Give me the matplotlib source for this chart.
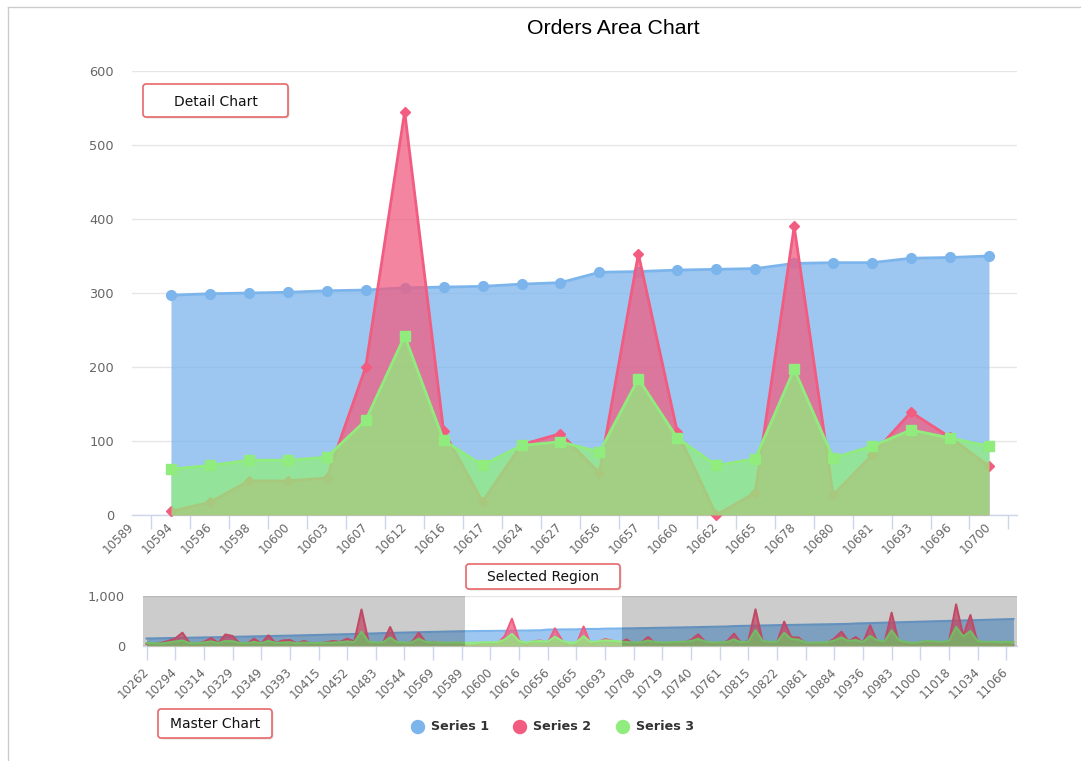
import numpy as np
import matplotlib.pyplot as plt
from matplotlib.patches import FancyBboxPatch, Circle

W, H = 1081, 761

# detail view (selected orders)
det_cats = ['10589', '10594', '10596', '10598', '10600', '10603', '10607', '10612',
            '10616', '10617', '10624', '10627', '10656', '10657', '10660', '10662',
            '10665', '10678', '10680', '10681', '10693', '10696', '10700']
det_s1 = [297, 299, 300, 301, 303, 304, 307, 308, 309, 312, 314,
          328, 329, 331, 332, 333, 340, 341, 341, 347, 348, 350]
det_s2 = [5, 17, 46, 46, 50, 200, 545, 113, 18, 95, 110,
          57, 353, 112, 0, 30, 390, 27, 81, 139, 105, 66]
det_s3 = [62, 67, 74, 74, 78, 128, 242, 101, 67, 94, 99,
          85, 184, 104, 67, 76, 197, 77, 93, 115, 104, 93]

# master view, every 4th order id is labelled
master_labels = ['10262', '10294', '10314', '10329', '10349', '10393', '10415', '10452',
                 '10483', '10544', '10569', '10589', '10600', '10616', '10656', '10665',
                 '10693', '10708', '10719', '10740', '10761', '10815', '10822', '10861',
                 '10884', '10936', '10983', '11000', '11018', '11034', '11066']

s1_before = [150, 152, 155, 158, 160, 163, 165, 168, 171, 173, 176, 180, 183, 186, 188,
             192, 195, 198, 201, 204, 207, 211, 214, 218, 221, 225, 229, 232, 236, 240,
             244, 248, 252, 257, 261, 265, 268, 272, 275, 279, 282, 285, 289, 292, 295]
s1_after = [352, 354, 357, 359, 362, 364, 367, 369, 372, 375, 378, 381, 384, 387, 390,
            398, 401, 404, 407, 410, 413, 416, 419, 421, 424, 426, 429, 431, 434, 436, 439, 442,
            450, 454, 458, 462, 466, 470, 474, 478, 482, 486, 490, 494, 498, 502, 506, 510,
            514, 518, 522, 527, 531, 535, 540]

s2_before = [40, 35, 60, 100, 150, 266, 60, 40, 80, 160, 60, 230, 200, 50, 40,
             146, 50, 213, 60, 110, 120, 50, 100, 40, 50, 70, 100, 80, 146, 90,
             730, 80, 40, 60, 380, 60, 50, 70, 266, 60, 80, 50, 60, 40, 50]
s2_after = [130, 40, 60, 180, 50, 40, 60, 50, 70, 120, 233, 80, 40, 60, 90,
            246, 60, 100, 733, 90, 60, 70, 487, 170, 170, 50, 40, 40, 60, 150, 287, 90,
            180, 60, 413, 80, 60, 667, 60, 40, 30, 50, 70, 60, 40, 80, 833, 200, 620,
            60, 40, 50, 30, 40, 20]

s3_before = [60, 55, 50, 70, 90, 110, 60, 55, 70, 90, 60, 100, 95, 60, 55,
             80, 60, 100, 65, 70, 75, 55, 70, 60, 60, 65, 70, 75, 90, 80,
             290, 85, 70, 75, 170, 75, 70, 70, 146, 80, 75, 70, 65, 70, 65]
s3_after = [80, 70, 75, 110, 80, 70, 75, 80, 85, 100, 140, 90, 70, 75, 80,
            130, 75, 90, 320, 100, 80, 85, 260, 140, 130, 70, 65, 70, 75, 110, 170, 100,
            120, 80, 200, 110, 90, 313, 120, 80, 60, 80, 100, 90, 80, 100, 380, 190, 300,
            100, 80, 85, 80, 85, 80]

sel_from, sel_to = 44.5, 66.3

colors = ['#7cb5ec', '#f15c80', '#90ed7d']
markers = ['o', 'D', 's']
msizes = [7, 5.2, 7]
names = ['Series 1', 'Series 2', 'Series 3']
axis_c = '#ccd6eb'
grid_c = '#e6e6e6'
lab_c = '#666666'

# full series = orders before the selection + selected orders + orders after
m_s1 = s1_before + det_s1 + s1_after
m_s2 = s2_before + det_s2 + s2_after
m_s3 = s3_before + det_s3 + s3_after
start = master_labels.index(det_cats[0]) * 4

fig = plt.figure(figsize=(W / 100, H / 100), dpi=100)


def px_axes(x0, y0, x1, y1):
    return fig.add_axes([x0 / W, 1 - y1 / H, (x1 - x0) / W, (y1 - y0) / H])


def style_axes(ax):
    for s in ['top', 'left', 'right']:
        ax.spines[s].set_visible(False)
    ax.spines['bottom'].set_color(axis_c)
    ax.spines['bottom'].set_linewidth(1)
    ax.set_axisbelow(True)
    ax.yaxis.grid(True, color=grid_c, lw=1)
    ax.tick_params(axis='y', length=0, pad=13, labelsize=9.3, labelcolor=lab_c)


def rotate_labels(labels):
    for t in labels:
        t.set_rotation(45)
        t.set_ha('right')
        t.set_va('center')
        t.set_rotation_mode('anchor')


# ---- detail chart
ax = px_axes(132, 71, 1017, 515)
style_axes(ax)
det_x = np.arange(start + 1, start + len(det_cats))
for i, ys in enumerate([det_s1, det_s2, det_s3]):
    ax.fill_between(det_x, 0, ys, color=colors[i], alpha=0.75, lw=0, zorder=2 + i)
    ax.plot(det_x, ys, color=colors[i], lw=2, marker=markers[i], ms=msizes[i],
            zorder=2.5 + i, clip_on=False)
ax.set_ylim(0, 600)
ax.set_yticks(np.arange(0, 601, 100))
ax.set_xlim(start, start + len(det_cats) - 1 + 0.72)
ax.set_xticks(np.arange(start + 0.5, start + len(det_cats)), [''] * len(det_cats))
ax.tick_params(axis='x', which='major', length=10, color=axis_c, width=1)
ax.set_xticks(np.arange(start, start + len(det_cats)), det_cats, minor=True)
ax.tick_params(axis='x', which='minor', length=0, pad=7, labelsize=8.6, labelcolor=lab_c)
rotate_labels(ax.get_xticklabels(minor=True))

# ---- master chart
ax2 = px_axes(143, 596, 1017, 646)
style_axes(ax2)
mx = np.arange(len(m_s1))
for i, ys in enumerate([m_s1, m_s2, m_s3]):
    ax2.fill_between(mx, 0, ys, color=colors[i], alpha=0.75, lw=0, zorder=2 + i)
    ax2.plot(mx, ys, color=colors[i], lw=1.5, zorder=2.5 + i)
ax2.set_xlim(-0.5, len(m_s1) - 0.5)
ax2.axvspan(-0.5, sel_from, color='black', alpha=0.2, lw=0, zorder=10)
ax2.axvspan(sel_to, len(m_s1) - 0.5, color='black', alpha=0.2, lw=0, zorder=10)
ax2.set_ylim(0, 1000)
ax2.set_yticks([0, 1000], ['0', '1,000'])
ax2.set_xticks(np.arange(len(master_labels)) * 4, master_labels)
ax2.tick_params(axis='x', length=10, color=axis_c, width=1, pad=7,
                labelsize=8.6, labelcolor=lab_c)
rotate_labels(ax2.get_xticklabels())

# ---- overlay in pixel units for title, labels and legend
ov = fig.add_axes([0, 0, 1, 1], zorder=20)
ov.set_xlim(0, W)
ov.set_ylim(H, 0)
ov.axis('off')
ov.plot([8, 8], [7, H], color='#cccccc', lw=1)
ov.plot([8, W], [7, 7], color='#cccccc', lw=1)

ov.text(613, 28, 'Orders Area Chart', ha='center', va='center', fontsize=15.3,
        family='Liberation Sans', color='black')


def callout(x0, y0, x1, y1, text):
    shadow = FancyBboxPatch((x0 + 1.5, y0 + 1.5), x1 - x0, y1 - y0,
                            boxstyle='round,pad=0,rounding_size=3',
                            fc='black', ec='none', alpha=0.12)
    box = FancyBboxPatch((x0, y0), x1 - x0, y1 - y0,
                         boxstyle='round,pad=0,rounding_size=3',
                         fc='white', ec='#e8676b', lw=1.2)
    ov.add_patch(shadow)
    ov.add_patch(box)
    ov.text((x0 + x1) / 2, (y0 + y1) / 2 + 1, text, ha='center', va='center',
            fontsize=10, color='#111111')


callout(143, 84, 288, 117, 'Detail Chart')
callout(466, 564, 620, 589, 'Selected Region')
callout(158, 709, 272, 738, 'Master Chart')

for i, lx in enumerate([418, 520, 623]):
    ov.add_patch(Circle((lx, 727), 6.5, color=colors[i]))
    ov.text(lx + 13, 727, names[i], ha='left', va='center', fontsize=9.2,
            fontweight='bold', color='#333333')

fig.savefig('out.png', dpi=100)
